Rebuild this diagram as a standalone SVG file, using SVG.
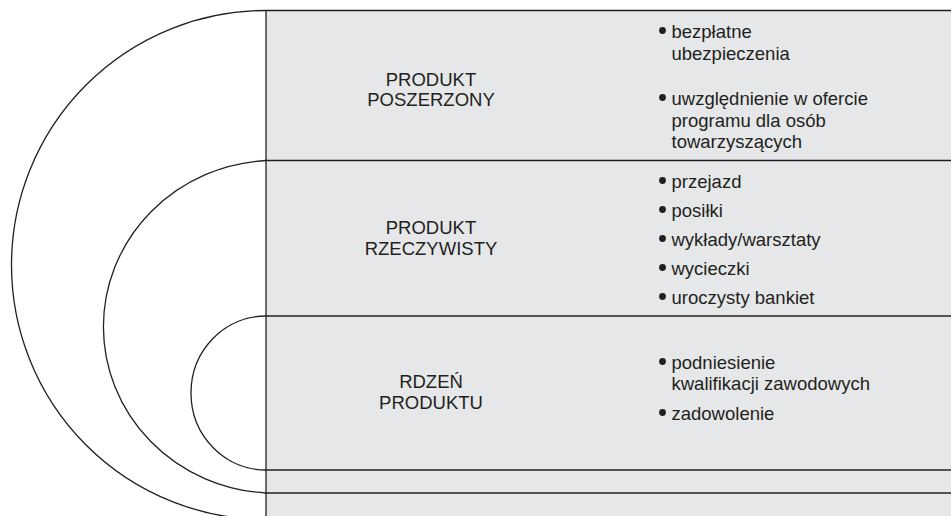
<svg xmlns="http://www.w3.org/2000/svg" width="951" height="516" viewBox="0 0 951 516">
  <style>
    .line { fill: none; stroke: #231f20; stroke-width: 1.3; }
    .panel { fill: #e6e7e8; }
    .label { font-family: "Liberation Sans", Arial, sans-serif; font-size: 18.5px; fill: #231f20; text-anchor: middle; }
    .item { font-family: "Liberation Sans", Arial, sans-serif; font-size: 18.5px; fill: #231f20; }
    .dot { fill: #231f20; }
  </style>
  <rect width="951" height="516" fill="#ffffff"/>

  <!-- grey table background -->
  <rect class="panel" x="266" y="10.5" width="685" height="506"/>

  <g id="connectors">
    <!-- nested half rings -->
    <path class="line" d="M266,10.5 A254.5,254.5 0 0 0 266,519.5"/>
    <path class="line" d="M266,160.5 A172,166.5 0 0 0 266,493"/>
    <path class="line" d="M266,316 A75,77 0 0 0 266,470"/>
    <!-- table rules -->
    <line class="line" x1="266" y1="10.5" x2="951" y2="10.5"/>
    <line class="line" x1="266" y1="160.5" x2="951" y2="160.5"/>
    <line class="line" x1="266" y1="316" x2="951" y2="316"/>
    <line class="line" x1="266" y1="470" x2="951" y2="470"/>
    <line class="line" x1="266" y1="493" x2="951" y2="493"/>
    <line class="line" x1="266" y1="10.5" x2="266" y2="516"/>
  </g>

  <g id="produkt-poszerzony">
    <text class="label" x="431" y="86">PRODUKT</text>
    <text class="label" x="431" y="106">POSZERZONY</text>
    <circle class="dot" cx="662.5" cy="30.5" r="3.4"/>
    <text class="item" x="671.5" y="38.3">bezpłatne</text>
    <text class="item" x="671.5" y="60">ubezpieczenia</text>
    <circle class="dot" cx="662.5" cy="97.5" r="3.4"/>
    <text class="item" x="671.5" y="105">uwzględnienie w ofercie</text>
    <text class="item" x="671.5" y="126.7">programu dla osób</text>
    <text class="item" x="671.5" y="148.3">towarzyszących</text>
  </g>

  <g id="produkt-rzeczywisty">
    <text class="label" x="431" y="234.3">PRODUKT</text>
    <text class="label" x="431" y="255">RZECZYWISTY</text>
    <circle class="dot" cx="662.5" cy="180.5" r="3.4"/>
    <text class="item" x="671.5" y="188.3">przejazd</text>
    <circle class="dot" cx="662.5" cy="209.5" r="3.4"/>
    <text class="item" x="671.5" y="217.3">posiłki</text>
    <circle class="dot" cx="662.5" cy="238.5" r="3.4"/>
    <text class="item" x="671.5" y="246.3">wykłady/warsztaty</text>
    <circle class="dot" cx="662.5" cy="267.5" r="3.4"/>
    <text class="item" x="671.5" y="275.3">wycieczki</text>
    <circle class="dot" cx="662.5" cy="296.5" r="3.4"/>
    <text class="item" x="671.5" y="304.3">uroczysty bankiet</text>
  </g>

  <g id="rdzen-produktu">
    <text class="label" x="431" y="388">RDZEŃ</text>
    <text class="label" x="431" y="409">PRODUKTU</text>
    <circle class="dot" cx="662.5" cy="361.5" r="3.4"/>
    <text class="item" x="671.5" y="369.3">podniesienie</text>
    <text class="item" x="671.5" y="390">kwalifikacji zawodowych</text>
    <circle class="dot" cx="662.5" cy="412.5" r="3.4"/>
    <text class="item" x="671.5" y="420">zadowolenie</text>
  </g>
</svg>
